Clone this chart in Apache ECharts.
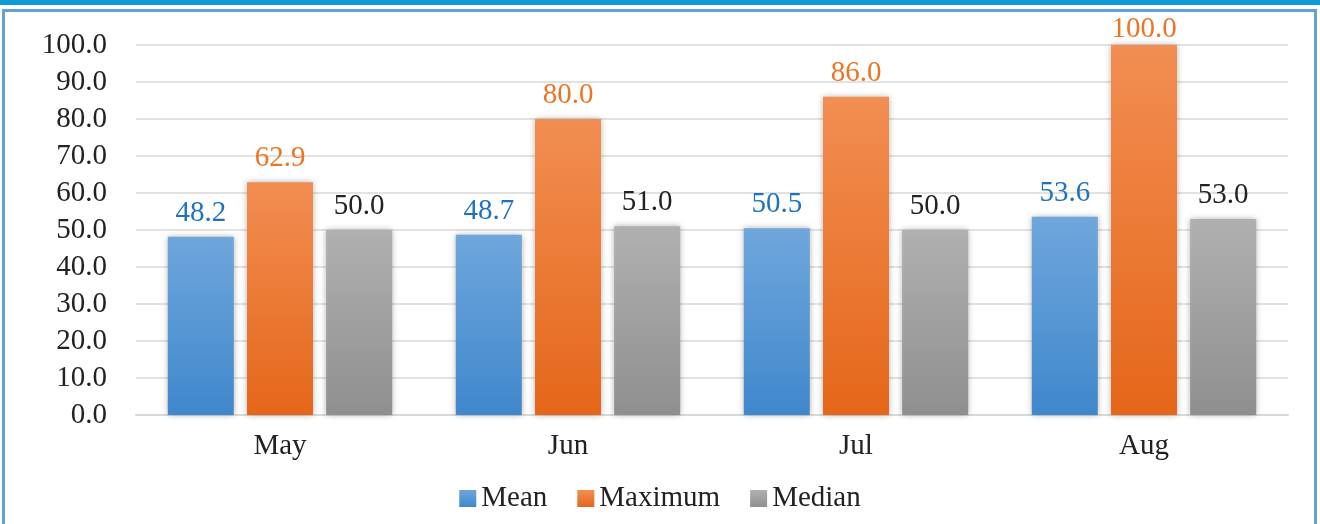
<!DOCTYPE html>
<html>
<head>
<meta charset="utf-8">
<script src="https://cdn.jsdelivr.net/npm/echarts@6/dist/echarts.min.js"></script>
<style>
  html, body { margin: 0; padding: 0; background: #fff; }
  .topbar { position: absolute; left: 0; top: 0; width: 1320px; height: 5px; background: #0f9bd7; }
  .frame { position: absolute; left: 2px; top: 9px; width: 1315px; height: 530px; border: 3px solid #64a0d8; box-sizing: border-box; }
  #chart { position: absolute; left: 0; top: 0; width: 1320px; height: 524px; }
</style>
</head>
<body>
<div class="topbar"></div>
<div class="frame"></div>
<div id="chart"></div>
<script>
const months = ['May', 'Jun', 'Jul', 'Aug']
const meanValues = [48.2, 48.7, 50.5, 53.6]
const maxValues = [62.9, 80.0, 86.0, 100.0]
const medianValues = [50.0, 51.0, 50.0, 53.0]

const chart = echarts.init(document.getElementById('chart'))
const font = '"Liberation Serif", "Times New Roman", serif'

function grad(top, bottom) {
  return new echarts.graphic.LinearGradient(0, 0, 0, 1, [
    {offset: 0, color: top},
    {offset: 1, color: bottom}
  ])
}

function makeSeries(name, data, topColor, bottomColor, labelColor) {
  return {
    name: name,
    type: 'bar',
    barWidth: 66,
    barGap: '20%',
    data: data,
    itemStyle: {
      color: grad(topColor, bottomColor),
      shadowBlur: 6,
      shadowColor: 'rgba(0,0,0,0.3)'
    },
    label: {
      show: true,
      position: 'top',
      distance: 9,
      color: labelColor,
      fontFamily: font,
      fontSize: 29,
      formatter: p => p.value.toFixed(1)
    },
    // keep labels inside the frame (top one gets pushed down a bit)
    labelLayout: params => params.labelRect.y < 15 ? {dy: 15 - params.labelRect.y} : {}
  }
}

const option = {
  animation: false,
  grid: {left: 136, right: 32, top: 45, bottom: 109},
  legend: {
    top: 479,
    left: 'center',
    icon: 'rect',
    itemWidth: 17,
    itemHeight: 17,
    itemGap: 30,
    textStyle: {fontFamily: font, fontSize: 29, color: '#222'},
    data: [
      {name: 'Mean', itemStyle: {color: grad('#6fa6dc', '#3f88cc')}},
      {name: 'Maximum', itemStyle: {color: grad('#f28e52', '#e5661a')}},
      {name: 'Median', itemStyle: {color: grad('#b0b0b0', '#8f8f8f')}}
    ]
  },
  xAxis: {
    type: 'category',
    data: months,
    axisTick: {show: false},
    axisLine: {lineStyle: {color: '#d9d9d9', width: 2}},
    axisLabel: {fontFamily: font, fontSize: 29, color: '#222', margin: 17}
  },
  yAxis: {
    type: 'value',
    min: 0,
    max: 100,
    interval: 10,
    axisLabel: {fontFamily: font, fontSize: 29, color: '#222', margin: 29, formatter: v => v.toFixed(1)},
    splitLine: {lineStyle: {color: '#d9d9d9', width: 1.5}},
    axisLine: {show: false},
    axisTick: {show: false}
  },
  series: [
    makeSeries('Mean', meanValues, '#6fa6dc', '#3f88cc', '#1f72c0'),
    makeSeries('Maximum', maxValues, '#f28e52', '#e5661a', '#ed7424'),
    makeSeries('Median', medianValues, '#b0b0b0', '#8f8f8f', '#222')
  ]
}

chart.setOption(option)
</script>
</body>
</html>
